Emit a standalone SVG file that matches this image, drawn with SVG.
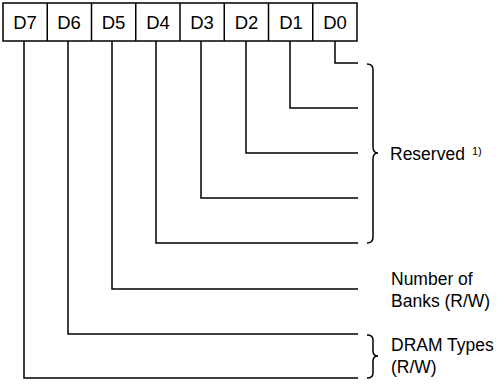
<svg xmlns="http://www.w3.org/2000/svg" width="501" height="384" viewBox="0 0 501 384">
<style>
.box{fill:#fff;stroke:#000;stroke-width:1.5}
.bl{font-family:"Liberation Sans",Arial,sans-serif;font-size:18.5px;text-anchor:middle;fill:#000}
.ln{fill:none;stroke:#000;stroke-width:1.5}
.lbl{font-family:"Liberation Sans",Arial,sans-serif;font-size:17.5px;fill:#000}
.sup{font-family:"Liberation Sans",Arial,sans-serif;font-size:11px;fill:#000}
</style>
<rect width="501" height="384" fill="#fff"/>
<g id="register">
<rect class="box" x="3" y="3" width="354" height="38"/>
<line class="ln" x1="47.25" y1="3" x2="47.25" y2="41"/>
<line class="ln" x1="91.5" y1="3" x2="91.5" y2="41"/>
<line class="ln" x1="135.75" y1="3" x2="135.75" y2="41"/>
<line class="ln" x1="180" y1="3" x2="180" y2="41"/>
<line class="ln" x1="224.25" y1="3" x2="224.25" y2="41"/>
<line class="ln" x1="268.5" y1="3" x2="268.5" y2="41"/>
<line class="ln" x1="312.75" y1="3" x2="312.75" y2="41"/>
</g>
<g id="D7"><text class="bl" x="25" y="29">D7</text></g>
<g id="D6"><text class="bl" x="69" y="29">D6</text></g>
<g id="D5"><text class="bl" x="113.5" y="29">D5</text></g>
<g id="D4"><text class="bl" x="158" y="29">D4</text></g>
<g id="D3"><text class="bl" x="202" y="29">D3</text></g>
<g id="D2"><text class="bl" x="246.5" y="29">D2</text></g>
<g id="D1"><text class="bl" x="291" y="29">D1</text></g>
<g id="D0"><text class="bl" x="335" y="29">D0</text></g>
<g id="connectors">
<polyline class="ln" points="335,41 335,63 358,63"/>
<polyline class="ln" points="290,41 290,108 358,108"/>
<polyline class="ln" points="246,41 246,153 358,153"/>
<polyline class="ln" points="201,41 201,198 358,198"/>
<polyline class="ln" points="156,41 156,243 358,243"/>
<polyline class="ln" points="112,41 112,289 358,289"/>
<polyline class="ln" points="68,41 68,334 358,334"/>
<polyline class="ln" points="24,41 24,378 358,378"/>
</g>
<g id="reserved">
<path class="ln" d="M367 64 Q373 64 373 70 L373 147 Q373 153 378 153 Q373 153 373 159 L373 237 Q373 243 367 243"/>
<text class="lbl" x="390" y="160">Reserved</text>
<text class="sup" x="472" y="155">1)</text>
</g>
<g id="banks">
<text class="lbl" x="391" y="285">Number of</text>
<text class="lbl" x="391" y="307">Banks (R/W)</text>
</g>
<g id="dram">
<path class="ln" d="M367 335 Q373 335 373 340 L373 351 Q373 356 378 356 Q373 356 373 361 L373 373 Q373 378 367 378"/>
<text class="lbl" x="391" y="351">DRAM Types</text>
<text class="lbl" x="391" y="373">(R/W)</text>
</g>
</svg>
